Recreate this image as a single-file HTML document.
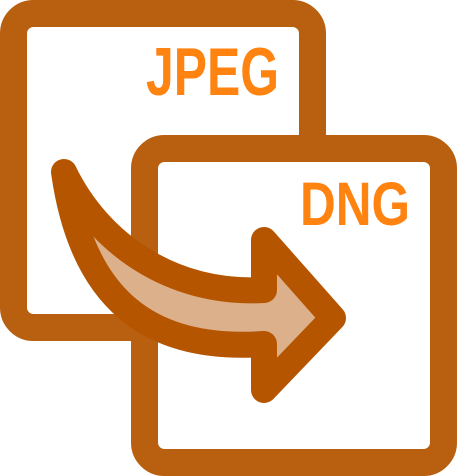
<!DOCTYPE html>
<html><head><style>html,body{margin:0;padding:0;background:#fff}svg{display:block}</style></head>
<body>
<svg width="457" height="476" viewBox="0 0 457 476" xmlns="http://www.w3.org/2000/svg">
<rect x="13.5" y="13.5" width="299" height="314" rx="20" fill="#fff" stroke="#b85f10" stroke-width="27"/>
<text x="146" y="95" font-family="'Liberation Sans',sans-serif" font-weight="bold" font-size="68" fill="#ff8311" textLength="133" lengthAdjust="spacingAndGlyphs">JPEG</text>
<rect x="144.5" y="148.5" width="299" height="314" rx="20" fill="#fff" stroke="#b85f10" stroke-width="27"/>
<text x="300" y="225" font-family="'Liberation Sans',sans-serif" font-weight="bold" font-size="61" fill="#ff8311" textLength="110" lengthAdjust="spacingAndGlyphs">DNG</text>
<path d="M64 172 C98 242 170 295 264 290 L264 240 L333 318 L264 390 L264 344 C150 352 82 300 64 172 Z" fill="#dcb08a" stroke="#b55500" stroke-width="26" stroke-linejoin="round"/>
</svg>
</body></html>
